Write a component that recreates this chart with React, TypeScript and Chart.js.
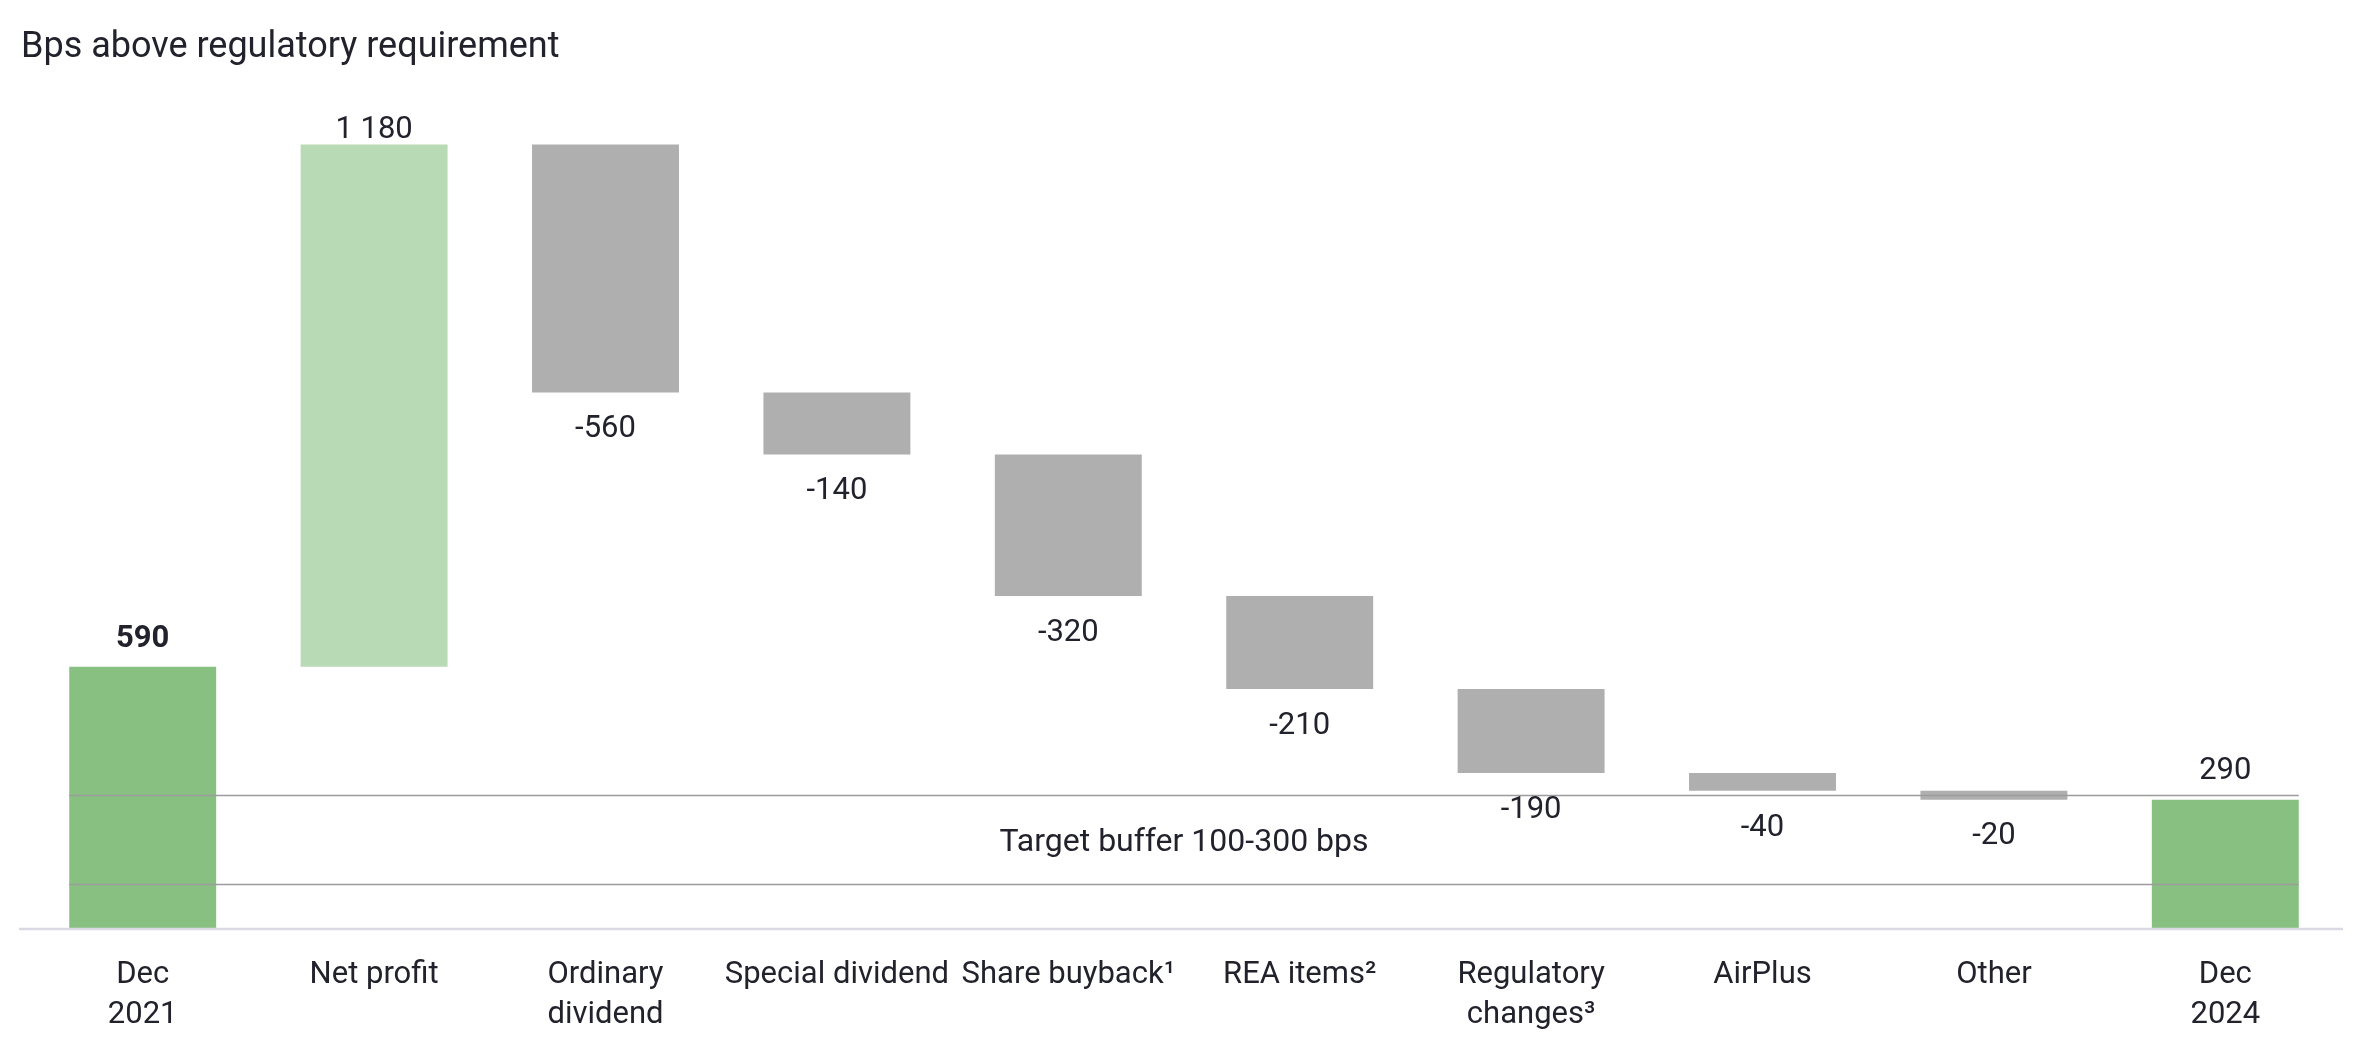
import React, { useEffect, useRef } from "react";
import { Chart, registerables } from "chart.js";

Chart.register(...registerables);

const chartTitle = "Bps above regulatory requirement";
const categories: string[][] = [
  ["Dec", "2021"],
  ["Net profit"],
  ["Ordinary", "dividend"],
  ["Special dividend"],
  ["Share buyback\u00B9"],
  ["REA items\u00B2"],
  ["Regulatory", "changes\u00B3"],
  ["AirPlus"],
  ["Other"],
  ["Dec", "2024"],
];
const changes = [590, 1180, -560, -140, -320, -210, -190, -40, -20, 290];
const kinds = ["total", "increase", "decrease", "decrease", "decrease", "decrease", "decrease", "decrease", "decrease", "total"];
const valueLabels = ["590", "1 180", "-560", "-140", "-320", "-210", "-190", "-40", "-20", "290"];
const boldLabels = [true, false, false, false, false, false, false, false, false, false];
const targetBuffer = [100, 300];
const targetLabel = "Target buffer 100-300 bps";
const yMin = 0;
const yMax = 1900;

const COLORS: Record<string, string> = {
  total: "#88c082",
  increase: "#b8dab4",
  decrease: "#afafaf",
};
const TEXT = "#22222c";
const FONT = "Roboto, 'Noto Sans', sans-serif";

function buildRanges(): number[][] {
  let running = 0;
  return changes.map((v, i) => {
    if (kinds[i] === "total") {
      running = v;
      return [0, v];
    }
    const start = running;
    running += v;
    return [start, running];
  });
}

const overlayPlugin = {
  id: "waterfallOverlay",
  afterDatasetsDraw(chart: any) {
    const ctx = chart.ctx as CanvasRenderingContext2D;
    const area = chart.chartArea;
    const x = chart.scales.x;
    const y = chart.scales.y;
    const meta = chart.getDatasetMeta(0);
    const ranges = buildRanges();
    ctx.save();

    // target buffer lines
    const first = meta.data[0];
    const last = meta.data[meta.data.length - 1];
    const lx0 = first.x - first.width / 2;
    const lx1 = last.x + last.width / 2;
    ctx.strokeStyle = "#9c9c9c";
    ctx.lineWidth = 1.5;
    targetBuffer.forEach((v) => {
      const py = Math.round(y.getPixelForValue(v)) + 0.5;
      ctx.beginPath();
      ctx.moveTo(lx0, py);
      ctx.lineTo(lx1, py);
      ctx.stroke();
    });

    // baseline
    ctx.strokeStyle = "#d9d9e3";
    ctx.lineWidth = 2.5;
    ctx.beginPath();
    ctx.moveTo(area.left - 8, area.bottom + 1);
    ctx.lineTo(area.right + 2, area.bottom + 1);
    ctx.stroke();

    ctx.fillStyle = TEXT;
    ctx.textAlign = "center";
    ctx.textBaseline = "middle";

    // target label
    ctx.font = `32px ${FONT}`;
    const midV = (targetBuffer[0] + targetBuffer[1]) / 2;
    ctx.fillText(targetLabel, (area.left + area.right) / 2, y.getPixelForValue(midV) + 4);

    // value labels
    ranges.forEach((r, i) => {
      const cx = x.getPixelForValue(i);
      const hi = Math.max(r[0], r[1]);
      const lo = Math.min(r[0], r[1]);
      ctx.font = `${boldLabels[i] ? "700 " : ""}31px ${FONT}`;
      if (kinds[i] === "decrease") {
        ctx.fillText(valueLabels[i], cx, y.getPixelForValue(lo) + 37);
      } else if (kinds[i] === "increase") {
        ctx.fillText(valueLabels[i], cx, y.getPixelForValue(hi) - 14);
      } else {
        ctx.fillText(valueLabels[i], cx, y.getPixelForValue(hi) - 28);
      }
    });

    // category labels
    ctx.font = `31px ${FONT}`;
    categories.forEach((lines, i) => {
      const cx = x.getPixelForValue(i);
      lines.forEach((t, j) => {
        ctx.fillText(t, cx, area.bottom + 47 + j * 40);
      });
    });

    // title
    ctx.textAlign = "left";
    ctx.font = `36px ${FONT}`;
    ctx.fillText(chartTitle, 21, 48);

    ctx.restore();
  },
};

export default function App() {
  const ref = useRef<HTMLCanvasElement | null>(null);
  useEffect(() => {
    document.body.style.margin = "0";
    if (!ref.current) return;
    const ranges = buildRanges();
    const chart = new Chart(ref.current, {
      type: "bar",
      data: {
        labels: categories.map((c) => c.join(" ")),
        datasets: [
          {
            data: ranges as any,
            backgroundColor: kinds.map((k) => COLORS[k]),
            borderWidth: 0,
            barPercentage: 0.635,
            categoryPercentage: 1,
          },
        ],
      },
      options: {
        animation: false,
        responsive: false,
        layout: { padding: { left: 27, right: 28, top: 87, bottom: 114 } },
        plugins: {
          legend: { display: false },
          tooltip: { enabled: false },
          title: { display: false },
        },
        scales: {
          x: { display: false, offset: true, grid: { display: false } },
          y: { display: false, min: yMin, max: yMax },
        },
      },
      plugins: [overlayPlugin],
    });
    return () => chart.destroy();
  }, []);
  return (
    <div style={{ width: 2369, height: 1042, background: "#ffffff" }}>
      <canvas ref={ref} width={2369} height={1042} style={{ display: "block" }} />
    </div>
  );
}
